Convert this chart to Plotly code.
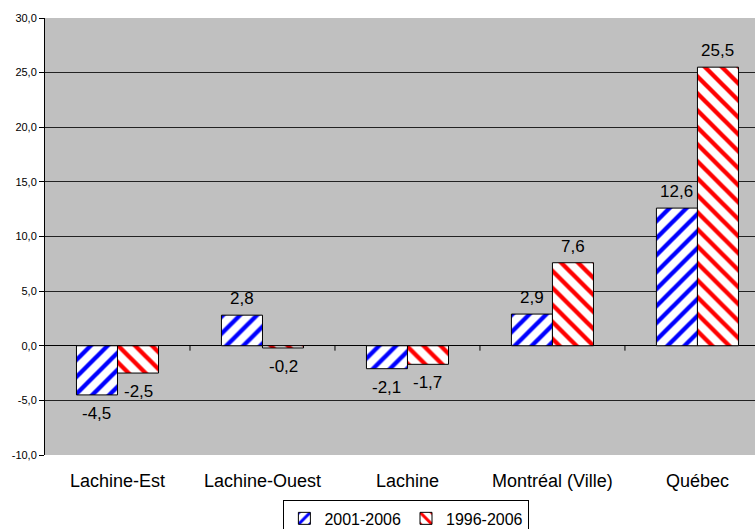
import plotly.graph_objects as go

categories = ["Lachine-Est", "Lachine-Ouest", "Lachine", "Montréal (Ville)", "Québec"]
series_names = ["2001-2006", "1996-2006"]
values_2001_2006 = [-4.5, 2.8, -2.1, 2.9, 12.6]
values_1996_2006 = [-2.5, -0.2, -1.7, 7.6, 25.5]
y_ticks = [-10, -5, 0, 5, 10, 15, 20, 25, 30]

FONT = "Liberation Sans, Arial, sans-serif"
BARGAP = 0.434


def fmt(v):
    return f"{v:.1f}".replace(".", ",")


xs = list(range(len(categories)))
fig = go.Figure()
series = [
    (values_2001_2006, series_names[0], "/", "#0000FF"),
    (values_1996_2006, series_names[1], "\\", "#FF0000"),
]
for vals, name, shape, col in series:
    fig.add_trace(go.Bar(
        x=xs, y=vals, name=name,
        marker=dict(color="white", line=dict(color="black", width=1),
                    pattern=dict(shape=shape, fgcolor=col, bgcolor="white",
                                 size=12, solidity=0.36, fgopacity=1)),
    ))

# data labels placed via the axis scales
bar_w = (1 - BARGAP) / len(series)
for k, (vals, name, shape, col) in enumerate(series):
    off = (k - (len(series) - 1) / 2) * bar_w
    for i, v in enumerate(vals):
        fig.add_annotation(
            x=i + off, y=v, xref="x", yref="y", text=fmt(v), showarrow=False,
            yanchor="bottom" if v >= 0 else "top",
            yshift=5 if v >= 0 else -7,
            font=dict(family=FONT, size=17, color="black"),
        )

# small tick marks on the zero axis between categories
for i in range(len(categories) - 1):
    fig.add_shape(type="line", xref="x", yref="y", x0=i + 0.5, x1=i + 0.5, y0=0, y1=-0.45,
                  line=dict(color="black", width=1))

fig.update_layout(
    width=755, height=529,
    margin=dict(l=45, r=0, t=18, b=74, autoexpand=False),
    paper_bgcolor="white", plot_bgcolor="#C0C0C0",
    barmode="group", bargap=BARGAP, bargroupgap=0,
    font=dict(family=FONT, color="black"),
    showlegend=True,
    legend=dict(orientation="h", x=0.509, xanchor="center", y=-0.104, yanchor="top",
                bordercolor="black", borderwidth=1, bgcolor="white",
                font=dict(family=FONT, size=16), itemwidth=30, tracegroupgap=0),
    xaxis=dict(tickmode="array", tickvals=xs, ticktext=categories,
               range=[-0.5, 4.397], showgrid=False, zeroline=False, showline=False,
               ticks="", ticklabelstandoff=13, automargin=False,
               tickfont=dict(family=FONT, size=18, color="black")),
    yaxis=dict(range=[-10, 30], tickmode="array", tickvals=y_ticks,
               ticktext=[fmt(t) for t in y_ticks], automargin=False,
               showgrid=True, gridcolor="#222222", gridwidth=1,
               zeroline=True, zerolinecolor="black", zerolinewidth=1,
               showline=True, linecolor="black", linewidth=1,
               ticks="outside", ticklen=5, tickcolor="black",
               tickfont=dict(family=FONT, size=11, color="black")),
)

fig.write_html(
    "out.html",
    config={"displayModeBar": False},
    post_script="document.body.style.margin='0';document.body.style.overflow='hidden';",
)
